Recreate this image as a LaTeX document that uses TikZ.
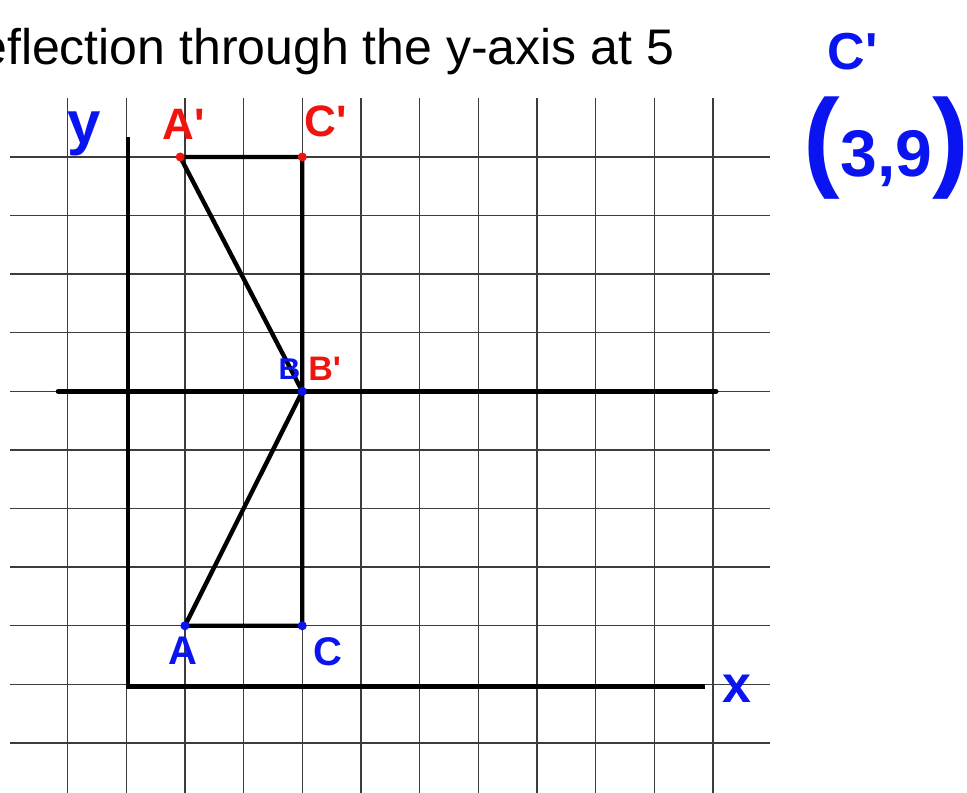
\documentclass[tikz,border=0pt]{standalone}
\usepackage{fontspec}
\setmainfont{Liberation Sans}
\definecolor{inkblue}{HTML}{0A14F0}
\definecolor{inkred}{HTML}{F0140F}
\definecolor{gridgray}{HTML}{3C3C3C}
\newcommand{\pr}{\textquotesingle}
\tikzset{
  grid line/.style={draw=gridgray,line width=1.4pt},
  axis/.style={draw=black,line width=4.8pt},
  side/.style={draw=black,line width=4.4pt,line cap=round,line join=round},
  blue ink/.style={text=inkblue,inner sep=0pt,font=\bfseries\fontsize{44}{44}\selectfont},
  red ink/.style={text=inkred,inner sep=0pt,font=\bfseries\fontsize{44}{44}\selectfont},
  blue dot/.style={circle,fill=inkblue,inner sep=0pt,minimum size=9pt},
  red dot/.style={circle,fill=inkred,inner sep=0pt,minimum size=9pt}
}
\begin{document}
\begin{tikzpicture}[x=58.7pt,y=58.6pt]
  \useasboundingbox (-2.150,-1.853) rectangle (14.324,11.679);
  % grid
  \foreach \i in {-1,...,10} \draw[grid line] (\i,-1.853)--(\i,10);
  \foreach \j in {-1,...,9} \draw[grid line] (-1.98,\j)--(10.97,\j);
  % axes and the line at 5
  \coordinate (o) at (0.03,-0.03);
  \coordinate (ytop) at (0.03,9.34);
  \coordinate (xend) at (9.86,-0.03);
  \coordinate (mleft) at (-1.16,5);
  \coordinate (mright) at (10.05,5);
  \draw[axis] (ytop)--(o)--(xend);
  \draw[axis,line cap=round] (mleft)--(mright);
  % triangles
  \coordinate (Ap) at (0.92,9);
  \coordinate (Cp) at (3,9);
  \coordinate (Bp) at (3,5);
  \coordinate (A) at (1,1);
  \coordinate (C) at (3,1);
  \coordinate (B) at (3,5);
  \draw[side] (Ap)--(Cp)--(Bp)--cycle;
  \draw[side] (A)--(C)--(B)--cycle;
  \node[red dot] at (Ap) {};
  \node[red dot] at (Cp) {};
  \node[blue dot] at (A) {};
  \node[blue dot] at (C) {};
  \node[blue dot] at (B) {};
  % title
  \node[anchor=base west,inner sep=0pt,font=\fontsize{50}{50}\selectfont]
    (title) at (-3.12,10.57) {Reflection through the y-axis at 5};
  % labels
  \node[blue ink,font=\bfseries\fontsize{60}{60}\selectfont] (ylab) at (-0.72,9.4) {y};
  \node[red ink] (Aplab) at (0.98,9.55) {A\pr};
  \node[red ink] (Cplab) at (3.4,9.6) {C\pr};
  \node[blue ink,font=\bfseries\fontsize{30}{30}\selectfont] (Blab) at (2.78,5.38) {B};
  \node[red ink,font=\bfseries\fontsize{34}{34}\selectfont] (Bplab) at (3.38,5.38) {B\pr};
  \node[blue ink,font=\bfseries\fontsize{40}{40}\selectfont] (Alab) at (0.97,0.58) {A};
  \node[blue ink,font=\bfseries\fontsize{40}{40}\selectfont] (Clab) at (3.44,0.55) {C};
  \node[blue ink,font=\bfseries\fontsize{52}{52}\selectfont] (xlab) at (10.4,-0.08) {x};
  \node[blue ink,font=\bfseries\fontsize{52}{52}\selectfont] (cnote) at (12.38,10.8) {C\pr};
  \node[blue ink] (pnote) at (12.95,9.15)
    {{\fontsize{110}{110}\selectfont(}{\fontsize{66}{66}\selectfont 3,9}{\fontsize{110}{110}\selectfont)}};
\end{tikzpicture}
\end{document}
